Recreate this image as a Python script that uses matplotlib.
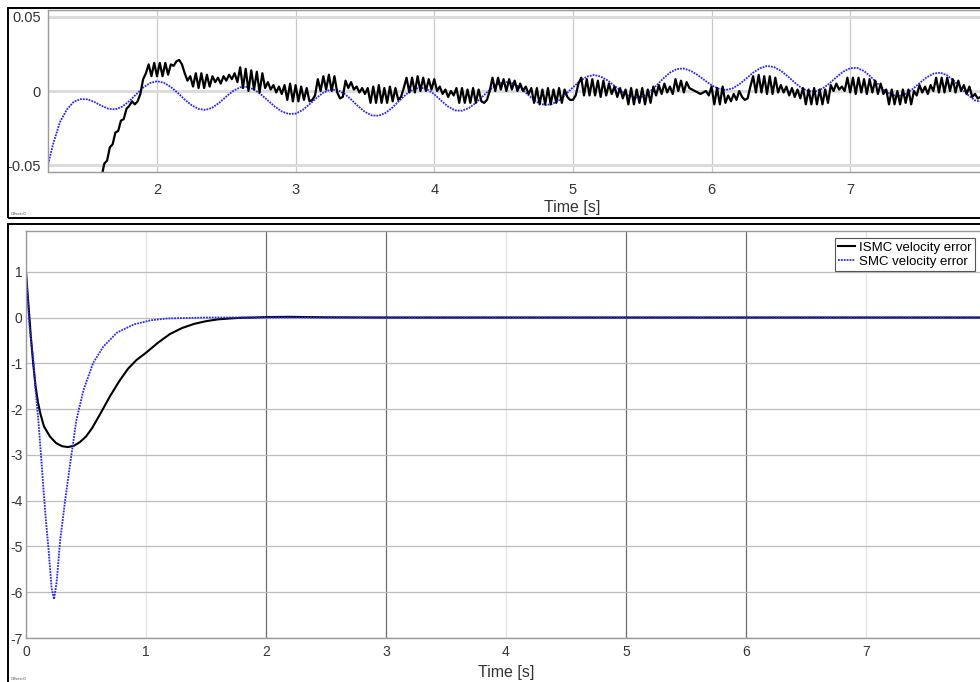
import numpy as np
import matplotlib.pyplot as plt
from matplotlib.patches import Rectangle

plt.rcParams['font.family'] = ['Liberation Sans', 'DejaVu Sans']
plt.rcParams['axes.unicode_minus'] = False

# ---- zoomed view (top panel), errors in thousandths ----
ismc_zoom_t0, ismc_zoom_dt = 1.60, 0.02
ismc_zoom = [
    -58, -49, -47, -38, -36, -28, -27, -20, -19, -12,
    -10, -7, -9, -7, -2, 8, 12, 18, 10, 19,
    10, 19, 10, 19, 11, 18, 17, 20, 21, 18,
    12, 7, 10, 3, 12, 2, 12, 2, 11, 3,
    10, 6, 9, 5, 10, 7, 11, 8, 12, 6,
    16, 2, 15, 0, 14, 1, 13, -1, 12, 2,
    6, 1, 4, -1, 3, -2, 4, -6, 5, -7,
    4, -7, 3, -6, 2, -7, -6, -3, 8, 0,
    10, 1, 11, 0, 10, -1, -5, -4, 7, 2,
    6, 1, 3, -1, 2, -2, 2, -8, 3, -8,
    4, -8, 2, -8, 3, -7, 2, -6, -4, 2,
    9, -1, 9, -1, 10, 0, 9, 0, 8, 1,
    8, 0, 3, -2, 1, -4, 0, -3, 2, -8,
    2, -8, 1, -8, 2, -8, 1, -7, -8, -6,
    0, 9, 0, 9, 1, 8, 0, 8, 1, 7,
    0, 5, 0, 3, -2, 2, -8, 2, -9, 1,
    -9, 2, -9, 1, -8, 2, -8, 1, -4, -6,
    -6, -3, 5, 9, -3, 8, -3, 8, -3, 7,
    -4, 7, -3, 5, -2, 3, -4, 2, -5, 1,
    -9, 2, -9, 1, -8, 2, -9, 1, -8, 3,
    -3, 4, -2, 5, -1, 3, -2, 8, 0, 7,
    -1, 6, 2, 1, 0, -1, -2, -1, 0, -3,
    3, -9, 2, -9, 3, -8, -3, -7, -2, -6,
    0, -4, -6, -5, 3, 10, -1, 11, -1, 10,
    -2, 10, -2, 9, -1, 4, -1, 3, -3, 2,
    -4, 1, -5, 2, -9, 1, -9, 2, -9, 1,
    -9, 1, -8, 4, 0, 5, 1, 3, 0, 9,
    -1, 9, -2, 9, -1, 8, -2, 8, -1, 7,
    -2, 5, -2, 1, -9, 1, -9, 0, -9, 1,
    -8, 1, -9, 0, -3, 4, -1, 3, -2, 4,
    0, 9, -1, 9, -1, 9, 0, 8, -1, 7,
    0, 4, -2, 3, -4, -2, -5, -4,
]

smc_zoom_t0, smc_zoom_dt = 1.20, 0.05
smc_zoom = [
    -55, -36, -21, -12.5, -7.2, -5.5, -5.6, -7.5, -10, -12,
    -12.4, -10.5, -6.8, -2.2, 2.3, 5.4, 6.6, 5.6, 2.7, -1.3,
    -5.8, -9.6, -12.1, -12.8, -11.2, -7.9, -3.7, 0.1, 2.5, 2.8,
    1.0, -2.3, -6.4, -10.5, -13.8, -15.5, -15.3, -12.9, -9.0, -4.7,
    -1.1, 0.9, 0.7, -1.7, -5.7, -10.2, -14.1, -16.5, -16.7, -14.7,
    -11.0, -6.4, -2.0, 1.1, 2.3, 1.1, -2.2, -6.5, -10.5, -13.1,
    -13.3, -11.5, -8.0, -3.6, 0.8, 4.3, 6.1, 5.9, 3.5, -0.3,
    -4.5, -7.9, -9.5, -8.8, -6.2, -2.1, 2.5, 6.7, 9.7, 10.8,
    9.8, 7.2, 3.5, -0.2, -3.1, -4.5, -3.7, -0.9, 3.5, 8.3,
    12.4, 14.9, 15.2, 13.6, 10.8, 7.3, 3.9, 1.6, 0.7, 1.7,
    4.5, 8.4, 12.4, 15.4, 16.9, 16.2, 13.7, 9.9, 5.7, 2.0,
    -0.1, -0.3, 1.6, 5.1, 9.3, 13.1, 15.4, 15.6, 13.5, 9.5,
    4.8, 0.2, -2.6, -3.4, -1.9, 1.3, 5.3, 9.1, 11.7, 12.4,
    10.6, 6.8, 1.9, -2.7, -6.3, -7.3,
]

# ---- full view (bottom panel) ----
t_ismc = [0, 0.02, 0.04, 0.06, 0.08, 0.10, 0.12, 0.15, 0.20, 0.25, 0.30,
          0.35, 0.40, 0.45, 0.50, 0.55, 0.62, 0.70, 0.78, 0.85, 0.92, 1.0,
          1.1, 1.2, 1.3, 1.4, 1.5, 1.6, 1.7, 1.8, 1.9, 2.0, 2.2, 2.5, 3.0,
          4.0, 5.0, 6.0, 7.0, 8.0]
ismc = [1.0, 0.3, -0.4, -1.0, -1.5, -1.85, -2.1, -2.38, -2.6, -2.74, -2.81,
        -2.83, -2.8, -2.72, -2.6, -2.42, -2.1, -1.72, -1.38, -1.12, -0.93, -0.77,
        -0.55, -0.36, -0.23, -0.14, -0.08, -0.04, -0.02, -0.005, 0.0, 0.01, 0.015, 0.005, 0.0,
        0.0, 0.0, 0.0, 0.0, 0.0]

t_smc = [0, 0.03, 0.061, 0.08, 0.103, 0.125, 0.145, 0.165, 0.187, 0.214, 0.234,
         0.256, 0.284, 0.326, 0.368, 0.42, 0.48, 0.56, 0.646, 0.758, 0.9,
         1.04, 1.18, 1.34, 1.5, 2.0, 3.0, 4.0, 5.0, 6.0, 7.0, 8.0]
smc = [1.0, -0.2, -0.92, -1.6, -2.24, -3.0, -3.71, -4.4, -5.03, -5.92, -6.15,
       -5.77, -4.89, -4.0, -3.2, -2.24, -1.58, -0.99, -0.63, -0.33, -0.15,
       -0.06, -0.02, -0.01, 0.0, 0.0, 0.0, 0.0, 0.0, 0.0, 0.0, 0.0]

top_xticks = [2, 3, 4, 5, 6, 7]
top_yticks = [-0.05, 0, 0.05]
top_ylabels = ['-0.05', '0', '0.05']
bot_xticks = [0, 1, 2, 3, 4, 5, 6, 7, 8]
bot_yticks = [-7, -6, -5, -4, -3, -2, -1, 0, 1]

BLUE = '#2626ff'
TXT = '#333333'

fig = plt.figure(figsize=(9.8, 6.82), dpi=100)

# outer frames of the two scope windows
fig.patches.append(Rectangle((0.0082, 0.6804), 1.0, 0.308, transform=fig.transFigure,
                             fill=False, lw=1.4, ec='black'))
fig.patches.append(Rectangle((0.0082, -0.01), 1.0, 0.6816, transform=fig.transFigure,
                             fill=False, lw=1.4, ec='black'))

# ---- top panel ----
ax1 = fig.add_axes([0.049, 0.7478, 0.96, 0.2375])
t_iz = ismc_zoom_t0 + ismc_zoom_dt * np.arange(len(ismc_zoom))
t_sz = smc_zoom_t0 + smc_zoom_dt * np.arange(len(smc_zoom))
ax1.plot(t_sz, np.array(smc_zoom) / 1000, color=BLUE, lw=1.3, ls=(0, (1, 0.6)))
ax1.plot(t_iz, np.array(ismc_zoom) / 1000, color='black', lw=1.6)
ax1.set_xlim(1.214, 8.0)
ax1.set_ylim(-0.0547, 0.0547)
ax1.set_xticks(top_xticks)
ax1.set_yticks(top_yticks)
ax1.set_yticklabels(top_ylabels)
ax1.tick_params(length=0, labelsize=10.5, labelcolor=TXT)
ax1.tick_params(axis='x', pad=8)
ax1.tick_params(axis='y', pad=5)
ax1.xaxis.grid(True, color='#c8c8c8', lw=0.9)
ax1.yaxis.grid(True, color='#dcdcdc', lw=2.2)
ax1.set_axisbelow(True)
for s in ax1.spines.values():
    s.set_color('#9a9a9a')
    s.set_linewidth(1.0)
ax1.set_xlabel('Time [s]', fontsize=11.5, color=TXT)
ax1.xaxis.set_label_coords(0.557, -0.175)
fig.text(0.011, 0.683, 'Offset=0', fontsize=3, color='#444444', va='bottom')

# ---- bottom panel ----
ax2 = fig.add_axes([0.0265, 0.0645, 0.9796, 0.5968])
ax2.plot(t_ismc, ismc, color='black', lw=1.5, label='ISMC velocity error')
ax2.plot(t_smc, smc, color=BLUE, lw=1.3, ls=(0, (1, 0.6)), label='SMC velocity error')
ax2.set_xlim(0, 8)
ax2.set_ylim(-7, 1.89)
ax2.set_xticks(bot_xticks)
ax2.set_yticks(bot_yticks)
ax2.tick_params(length=0, labelsize=10, labelcolor=TXT)
ax2.tick_params(axis='x', pad=5)
ax2.tick_params(axis='y', pad=2.5)
ax2.grid(True, color='#bdbdbd', lw=0.9)
ax2.set_axisbelow(True)
# vertical grid lines come out in two shades in the original
for i, gl in enumerate(ax2.get_xgridlines()):
    if bot_xticks[i] in (2, 3, 5, 6):
        gl.set_color('#6e6e6e')
    else:
        gl.set_color('#e2e2e2')
for s in ax2.spines.values():
    s.set_color('#9a9a9a')
    s.set_linewidth(1.0)
ax2.set_xlabel('Time [s]', fontsize=11.5, color=TXT, labelpad=4)
fig.text(0.011, 0.002, 'Offset=0', fontsize=3, color='#444444', va='bottom')

leg = ax2.legend(loc='upper right', bbox_to_anchor=(0.995, 0.651),
                 bbox_transform=fig.transFigure, fontsize=9.5, fancybox=False,
                 framealpha=1, edgecolor='#555555', borderpad=0.25,
                 labelspacing=0.15, handlelength=1.3, handletextpad=0.3,
                 borderaxespad=0)
leg.get_frame().set_linewidth(0.8)

plt.savefig('out.png', dpi=100)
